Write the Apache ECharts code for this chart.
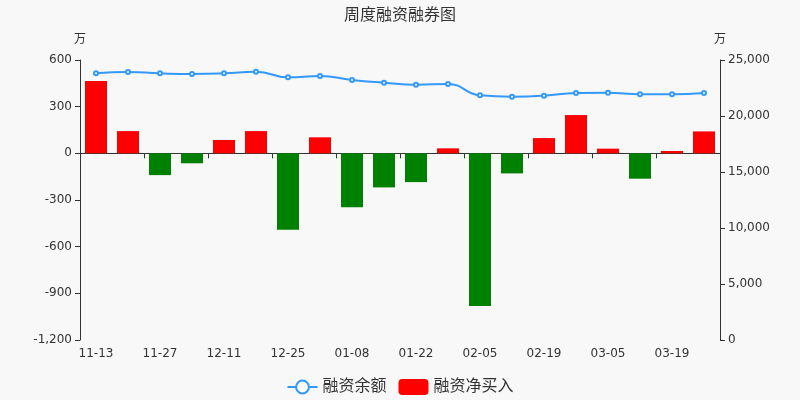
<!DOCTYPE html>
<html>
<head>
<meta charset="utf-8">
<script src="https://cdn.jsdelivr.net/npm/echarts@6/dist/echarts.min.js"></script>
<style>html,body{margin:0;padding:0;background:#f8f8f8;}#c{width:800px;height:400px;}</style>
</head>
<body>
<div id="c"></div>
<script>
var categories = ['11-13','11-20','11-27','12-04','12-11','12-18','12-25','01-01','01-08','01-15','01-22','01-29','02-05','02-12','02-19','02-26','03-05','03-12','03-19','03-26'];
var netBuy = [465, 143, -140, -64, 86, 143, -491, 103, -347, -219, -185, 32, -982, -129, 98, 246, 30, -163, 15, 141];
var balance = [23810, 23930, 23810, 23750, 23810, 23960, 23450, 23570, 23210, 22975, 22800, 22860, 21850, 21725, 21810, 22050, 22080, 21935, 21935, 22050];
var leftTicks = {min: -1200, max: 600, interval: 300};
var rightTicks = {min: 0, max: 25000, interval: 5000};

var font = "'DejaVu Sans', 'Noto Sans CJK SC', sans-serif";
var chart = echarts.init(document.getElementById('c'));
function fmt(v){ return v.toLocaleString('en-US'); }
chart.setOption({
  backgroundColor: '#f8f8f8',
  textStyle: {fontFamily: font},
  title: {text: '周度融资融券图', left: 'center', top: 3, textStyle: {fontSize: 16, fontWeight: 'normal', color: '#333', fontFamily: font}},
  legend: {
    bottom: 0, left: 'center', itemGap: 12, itemWidth: 30, itemHeight: 16,
    textStyle: {fontSize: 16, color: '#333', fontFamily: font},
    data: [{name: '融资余额'}, {name: '融资净买入', icon: 'roundRect'}]
  },
  grid: {left: 80, right: 80, top: 60, bottom: 60},
  xAxis: {
    type: 'category', data: categories,
    axisLine: {onZero: true, lineStyle: {color: '#333'}},
    axisTick: {show: true, interval: 1, lineStyle: {color: '#333'}},
    axisLabel: {interval: 1, color: '#333', fontSize: 12, margin: 8, fontFamily: font}
  },
  yAxis: [
    {type: 'value', name: '万', nameGap: 14, nameTextStyle: {color: '#333', fontSize: 12, align: 'center'},
     min: leftTicks.min, max: leftTicks.max, interval: leftTicks.interval,
     axisLine: {show: true, lineStyle: {color: '#333'}}, axisTick: {show: true},
     splitLine: {show: false},
     axisLabel: {color: '#333', fontSize: 12, formatter: fmt, fontFamily: font}},
    {type: 'value', name: '万', nameGap: 14, nameTextStyle: {color: '#333', fontSize: 12, align: 'center'},
     min: rightTicks.min, max: rightTicks.max, interval: rightTicks.interval,
     axisLine: {show: true, lineStyle: {color: '#333'}}, axisTick: {show: true},
     splitLine: {show: false},
     axisLabel: {color: '#333', fontSize: 12, formatter: fmt, fontFamily: font}}
  ],
  series: [
    {name: '融资余额', type: 'line', yAxisIndex: 1, data: balance, smooth: true,
     symbol: 'emptyCircle', symbolSize: 4, z: 3,
     itemStyle: {color: '#3399ff'}, lineStyle: {color: '#3399ff', width: 2}},
    {name: '融资净买入', type: 'bar', yAxisIndex: 0, barWidth: 22,
     itemStyle: {color: '#ff0000'},
     data: netBuy.map(function(v){ return {value: v, itemStyle: {color: v >= 0 ? '#ff0000' : '#008000'}}; })}
  ]
});
</script>
</body>
</html>
